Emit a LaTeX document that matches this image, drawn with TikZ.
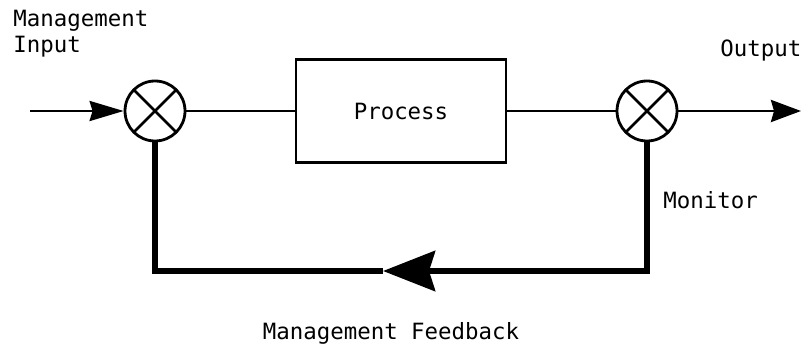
\documentclass[tikz,border=0pt]{standalone}
\usepackage{fontspec}
\setmonofont{DejaVu Sans Mono}
\usetikzlibrary{arrows.meta}

\begin{document}
\begin{tikzpicture}[x=0.5pt, y=-0.5pt, node distance=123pt, font=\ttfamily\fontsize{11.2}{13}\selectfont, mixer/.style={circle, draw, line width=1.4pt, minimum size=30pt, inner sep=0pt, path picture={\draw[line width=1.4pt] (path picture bounding box.north west) -- (path picture bounding box.south east) (path picture bounding box.north east) -- (path picture bounding box.south west);}}, block/.style={rectangle, draw, line width=1.4pt, minimum width=105pt, minimum height=51.5pt}, feedback/.style={line width=3.2pt}]
  \useasboundingbox (0,0) rectangle (801,347);
  \node[mixer] (sum) at (155,111) {};
  \node[block, right of=sum] (process) {Process};
  \node[mixer, right of=process] (monitor) {};
  \coordinate (input) at (30,111);
  \coordinate (output) at (801,111);
  \coordinate (back) at (383,271);

  \draw[line width=1.4pt, -{Stealth[length=17pt, width=10pt, inset=1.5pt]}] (input) -- (sum);
  \draw[line width=1.4pt] (sum) -- (process);
  \draw[line width=1.4pt] (process) -- (monitor);
  \draw[line width=1.4pt, -{Stealth[length=15pt, width=11pt, inset=1.5pt]}] (monitor) -- (output);
  \draw[feedback, -{Stealth[length=26pt, width=20pt, inset=3pt]}] (monitor.south) |- (back);
  \draw[feedback] (back) -| (sum.south);

  \node[anchor=north west, align=left, inner sep=0pt] (mgmtin) at (13,10) {Management\\Input};
  \node[anchor=west, inner sep=0pt] (outlabel) at (720,51) {Output};
  \node[anchor=west, inner sep=0pt] (monlabel) at (663,200) {Monitor};
  \node[inner sep=0pt] (fblabel) at (391,333) {Management Feedback};
\end{tikzpicture}
\end{document}
